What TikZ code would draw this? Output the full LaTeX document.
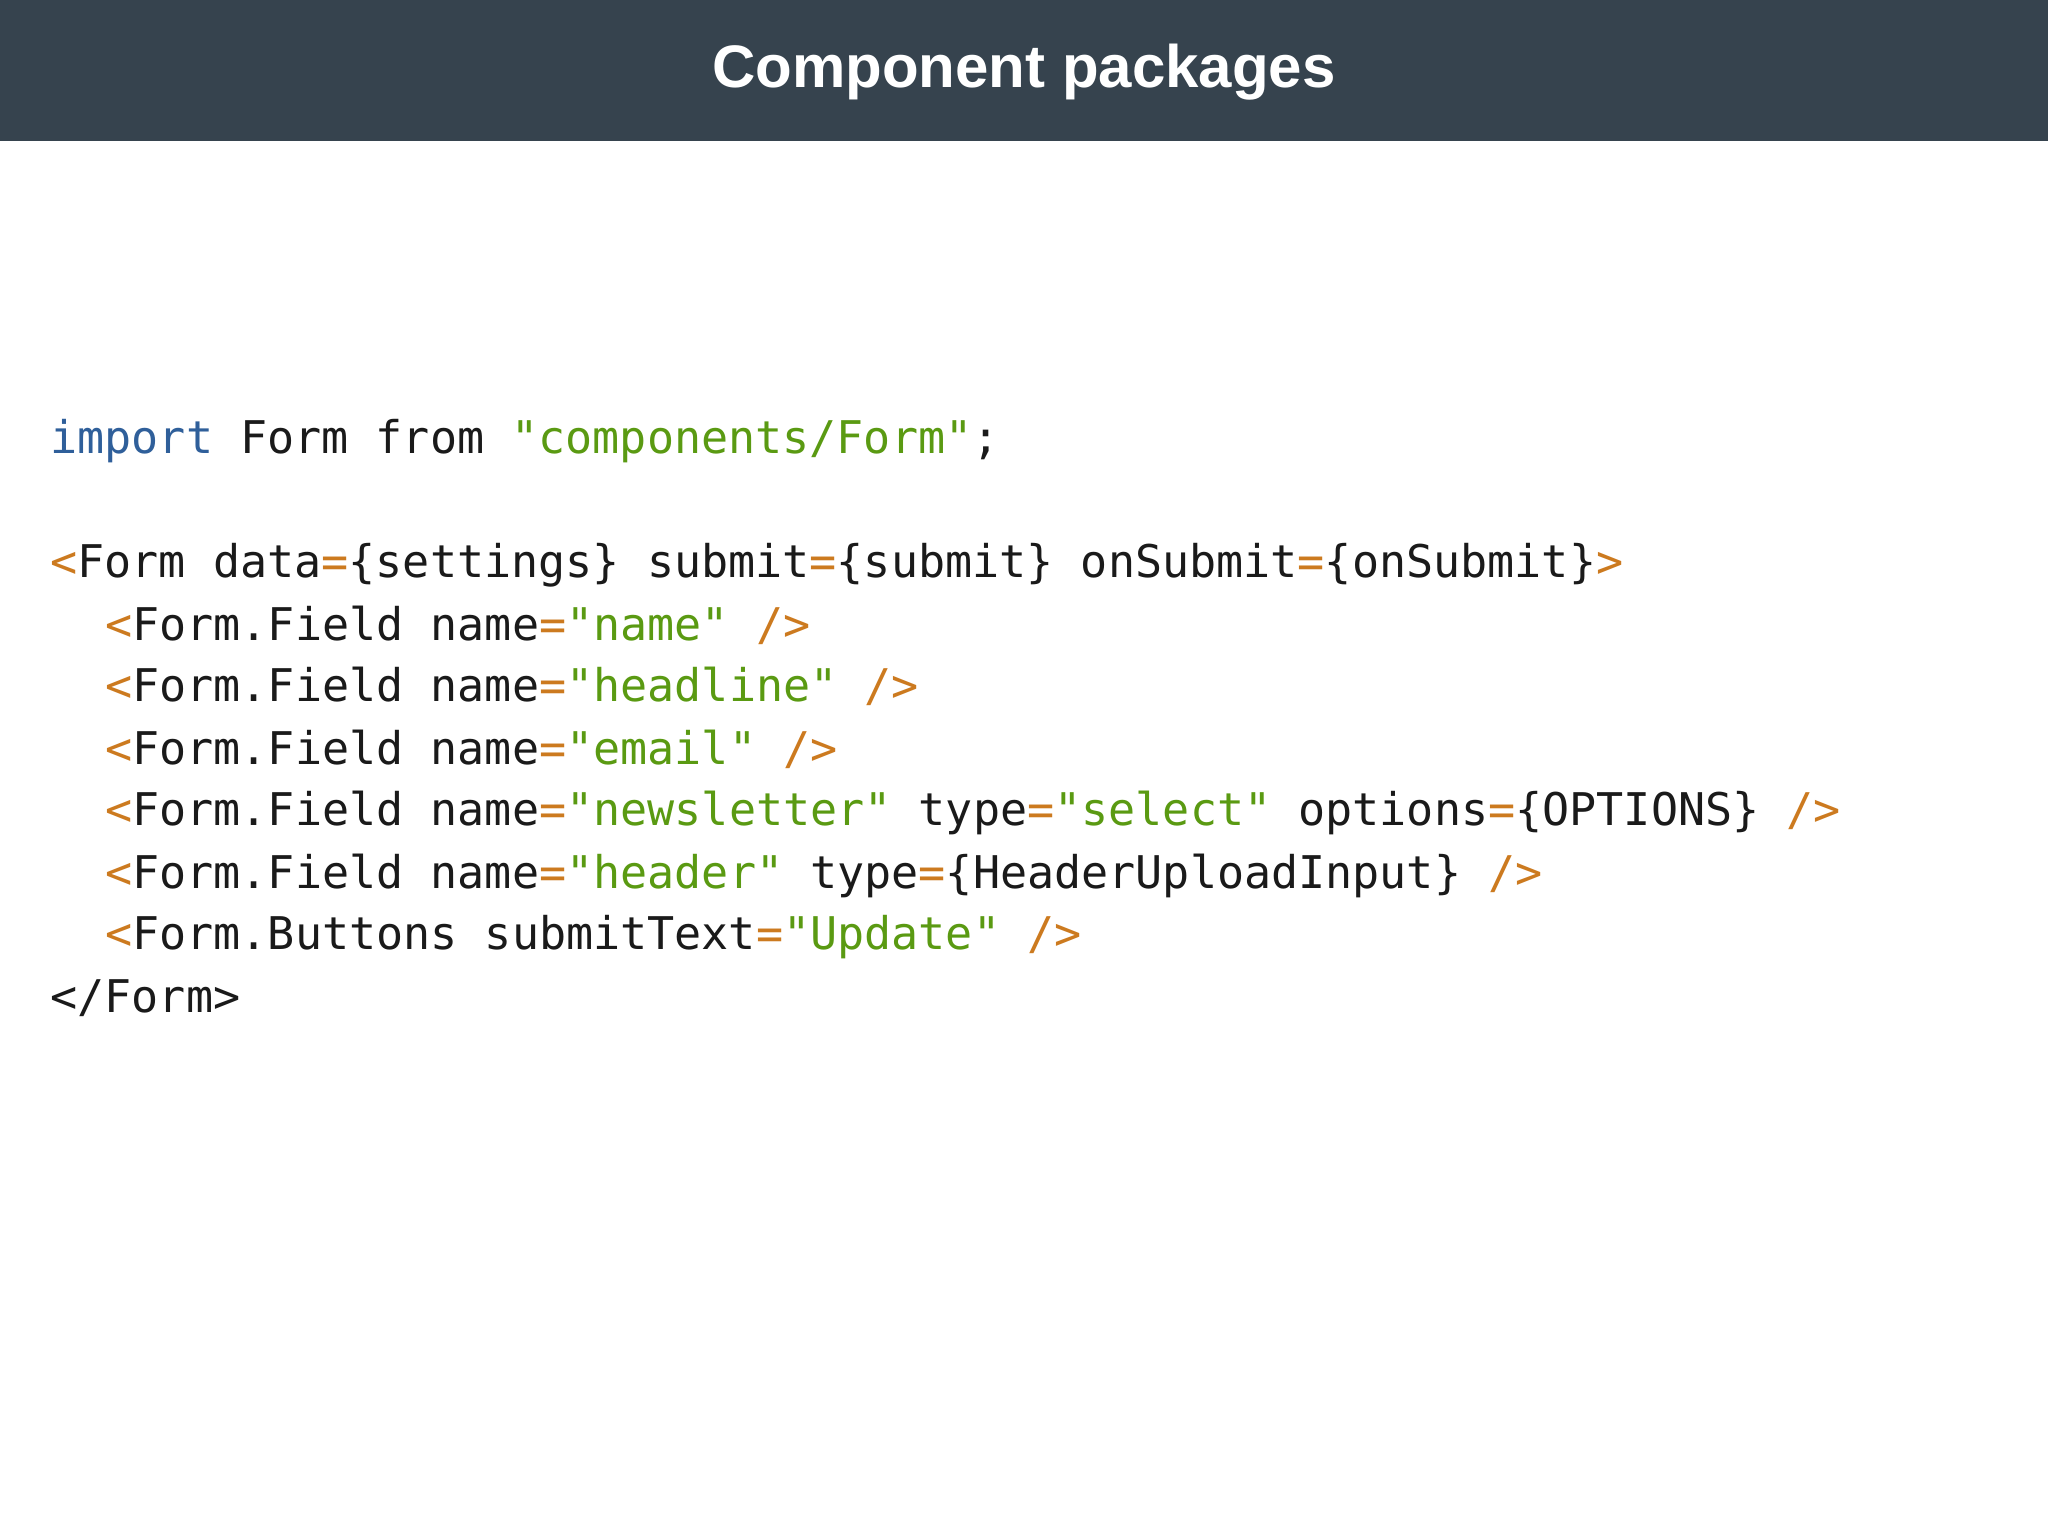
\documentclass[tikz,border=0pt]{standalone}
\usepackage{fontspec}
\setmainfont{Liberation Sans}
\setmonofont{DejaVu Sans Mono}
\definecolor{bar}{HTML}{36434E}
\definecolor{kw}{HTML}{2F5F9A}
\definecolor{str}{HTML}{5A9A12}
\definecolor{op}{HTML}{CC7A1F}
\definecolor{txt}{HTML}{1A1A1A}
\newcommand{\K}[1]{\textcolor{kw}{#1}}
\newcommand{\Sx}[1]{\textcolor{str}{#1}}
\newcommand{\Ox}[1]{\textcolor{op}{#1}}
\tikzset{code/.style={anchor=base west,inner sep=0pt,text=txt,font=\ttfamily\fontsize{11.26}{13}\selectfont}}
\begin{document}
\begin{tikzpicture}[x=0.3265pt,y=-0.3265pt]
\useasboundingbox (0,0) rectangle (1568,1176);
\fill[white] (0,0) rectangle (1568,1176);
\fill[bar] (0,0) rectangle (1568,108);
\node[text=white,font=\bfseries\fontsize{15}{18}\selectfont] (title) at (784,55) {Component packages};
\node[code] (l1) at (38,347) {\K{import} Form from \Sx{"components/Form"};};
\node[code] (l2) at (38,442) {\Ox{<}Form data\Ox{=}\{settings\} submit\Ox{=}\{submit\} onSubmit\Ox{=}\{onSubmit\}\Ox{>}};
\node[code] (l3) at (80,490) {\Ox{<}Form.Field name\Ox{=}\Sx{"name"} \Ox{/>}};
\node[code] (l4) at (80,537) {\Ox{<}Form.Field name\Ox{=}\Sx{"headline"} \Ox{/>}};
\node[code] (l5) at (80,585) {\Ox{<}Form.Field name\Ox{=}\Sx{"email"} \Ox{/>}};
\node[code] (l6) at (80,632) {\Ox{<}Form.Field name\Ox{=}\Sx{"newsletter"} type\Ox{=}\Sx{"select"} options\Ox{=}\{OPTIONS\} \Ox{/>}};
\node[code] (l7) at (80,680) {\Ox{<}Form.Field name\Ox{=}\Sx{"header"} type\Ox{=}\{HeaderUploadInput\} \Ox{/>}};
\node[code] (l8) at (80,727) {\Ox{<}Form.Buttons submitText\Ox{=}\Sx{"Update"} \Ox{/>}};
\node[code] (l9) at (38,775) {</Form>};
\end{tikzpicture}
\end{document}
